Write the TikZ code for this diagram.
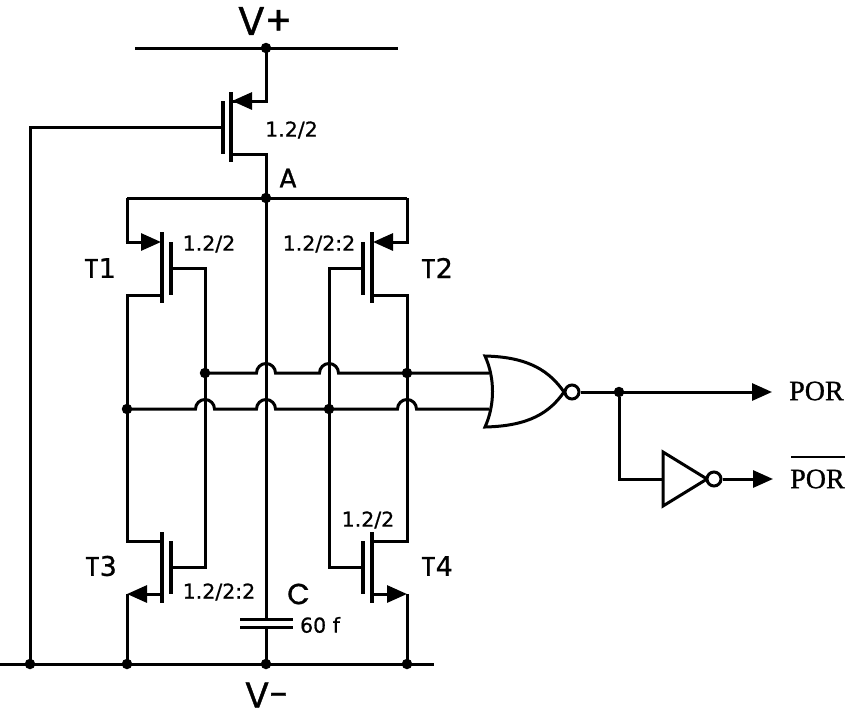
\documentclass[tikz,border=0pt]{standalone}
\usepackage{fontspec}
\setmainfont[RawFeature={embolden=0.8}]{DejaVu Sans}
\newfontfamily\letfont[RawFeature={embolden=1.0}]{Poppins}
\newfontfamily\outfont[RawFeature={embolden=1.0}]{Liberation Serif}
\usetikzlibrary{arrows.meta}
\newcommand{\hbump}[2]{-- (#1-9.5,#2) arc[start angle=180,end angle=360,radius=9.5]}
\tikzset{
  wire/.style={line width=3pt,line join=miter},
  barline/.style={line width=3.4pt},
  flow/.style={wire,-{Triangle[length=20pt,width=17pt]}},
  backflow/.style={wire,{Triangle[length=20pt,width=17pt]}-},
  gate/.style={line width=3pt,line join=miter,fill=white},
  jn/.style={circle,fill=black,inner sep=0pt,minimum size=10.5pt,name=#1},
  ratio/.style={inner sep=0pt,font=\fontsize{20.5}{22}\selectfont},
  tag/.style={inner sep=0pt,font=\fontsize{27}{29}\selectfont},
  rail/.style={inner sep=0pt,font=\fontsize{38}{40}\letfont},
  outlab/.style={inner sep=0pt,font=\fontsize{28}{30}\outfont,anchor=west},
}
\newcommand{\Tn}[1]{{\letfont T}#1}
\begin{document}
\begin{tikzpicture}[x=1pt,y=-1pt]
\useasboundingbox (0,0) rectangle (850,715);
% named points
\coordinate (vpL) at (135,48); \coordinate (vpR) at (398,48); \coordinate (vp) at (266,48);
\coordinate (vmL) at (0,664); \coordinate (vmR) at (434,664);
\coordinate (vmG) at (30,664); \coordinate (vm1) at (127,664); \coordinate (vmC) at (266,664); \coordinate (vm2) at (407,664);
\coordinate (A) at (266,198); \coordinate (AL) at (127,198); \coordinate (AR) at (407,198);
\coordinate (P0s) at (266,101); \coordinate (P0st) at (232,101);
\coordinate (P0d) at (266,154); \coordinate (P0db) at (231,154);
\coordinate (P0g) at (223,127); \coordinate (gL) at (30,127);
\coordinate (capT) at (266,619); \coordinate (capB) at (266,627);
% rails
\draw[wire] (vpL) -- (vpR);
\draw[wire] (vmL) -- (vmR);
% top PMOS
\draw[wire] (vp) -- (P0s) -- (P0st);
\draw[backflow] (P0st) -- (P0s);
\draw[barline] (231,92) -- (231,162);
\draw[barline] (223,101) -- (223,154);
\draw[wire] (P0db) -- (P0d) -- (A);
\draw[wire] (vmG) -- (gL) -- (P0g);
% A rail
\draw[wire] (AL) -- (AR);
% T1
\draw[wire] (AL) -- (127,242);
\draw[flow] (125.5,242) -- (161,242);
\draw[barline] (162,232) -- (162,303);
\draw[barline] (171,242) -- (171,295);
\draw[wire] (162,295) -- (127,295) -- (127,541) -- (162,541);
\draw[wire] (171,268) -- (205,268) -- (205,567) -- (171,567);
% T2
\draw[wire] (AR) -- (407,242);
\draw[flow] (408.5,242) -- (373,242);
\draw[barline] (372,232) -- (372,303);
\draw[barline] (363,242) -- (363,295);
\draw[wire] (372,295) -- (407,295) -- (407,541) -- (372,541);
\draw[wire] (363,268) -- (329,268) -- (329,567) -- (363,567);
% T3
\draw[barline] (162,532) -- (162,603);
\draw[barline] (171,541) -- (171,594);
\draw[flow] (162,594) -- (127,594);
\draw[wire] (127,594) -- (vm1);
% T4
\draw[barline] (372,532) -- (372,603);
\draw[barline] (363,541) -- (363,594);
\draw[flow] (372,594) -- (407,594);
\draw[wire] (407,594) -- (vm2);
% capacitor
\draw[wire] (A) -- (capT);
\draw[wire] (capB) -- (vmC);
\draw[wire] (240,619) -- (293,619);
\draw[wire] (240,627) -- (293,627);
% crossing wires
\draw[wire] (205,373) \hbump{266}{373} \hbump{329}{373} -- (489,373);
\draw[wire] (127,409) \hbump{205}{409} \hbump{266}{409} \hbump{407}{409} -- (489,409);
% NOR
\draw[gate] (485,356) .. controls (530,357) and (550,372) .. (564,392)
  .. controls (550,412) and (530,426) .. (485,427)
  .. controls (495,405) and (495,378) .. (485,356) -- cycle;
\node[draw,circle,fill=white,line width=3pt,minimum size=14pt,inner sep=0pt] (norB) at (572,392) {};
\node[jn=split] at (619,392) {};
\draw[flow] (norB) -- (772,392);
% inverter
\draw[wire] (split) -- (619,479) -- (663,479);
\draw[gate] (663,452) -- (707,479) -- (663,506) -- cycle;
\node[draw,circle,fill=white,line width=3pt,minimum size=14pt,inner sep=0pt] (invB) at (714,479) {};
\draw[flow] (invB) -- (773,479);
% junction dots
\node[jn=d1] at (vp) {};
\node[jn=d2] at (A) {};
\node[jn=d3] at (205,373) {};
\node[jn=d4] at (407,373) {};
\node[jn=d5] at (127,409) {};
\node[jn=d6] at (329,409) {};
\node[jn=d7] at (vmG) {};
\node[jn=d8] at (vm1) {};
\node[jn=d9] at (vmC) {};
\node[jn=d10] at (vm2) {};
% labels
\node[rail,font=\fontsize{40}{42}\letfont] (lvp) at (265,21) {V+};
\node[rail,font=\fontsize{36}{38}\letfont] (lvm) at (267,695) {V-};
\node[tag,font=\fontsize{27}{29}\letfont] (lA) at (288,178) {A};
\node[tag] (lT1) at (100,268) {\Tn{1}};
\node[tag] (lT2) at (437,268) {\Tn{2}};
\node[tag] (lT3) at (101,566) {\Tn{3}};
\node[tag] (lT4) at (437,566) {\Tn{4}};
\node[tag,font=\fontsize{29}{31}\letfont] (lC) at (298.5,594) {C};
\node[ratio] (r0) at (291.5,130) {1.2/2};
\node[ratio] (r1) at (209,244) {1.2/2};
\node[ratio] (r2) at (319,244) {1.2/2:2};
\node[ratio] (r3) at (219,592) {1.2/2:2};
\node[ratio] (r4) at (368,520) {1.2/2};
\node[ratio] (rc) at (320,625) {60 f};
\node[outlab] (por) at (789,391) {POR};
\node[outlab] (nor) at (790,479) {POR};
\draw[line width=2.4pt] (791,457) -- (845,457);
\end{tikzpicture}
\end{document}
